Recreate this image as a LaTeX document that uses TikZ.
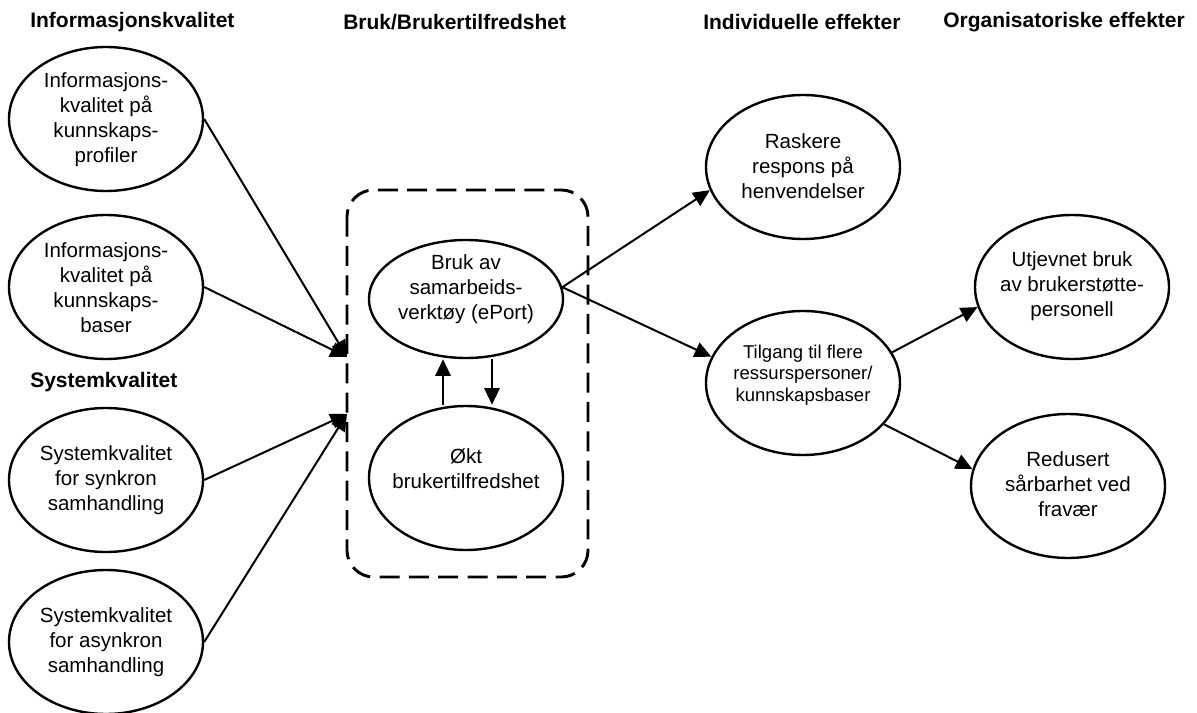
\documentclass[tikz,border=0pt]{standalone}
\usepackage{fontspec}
\setmainfont{Liberation Sans}
\usetikzlibrary{arrows.meta,shapes.geometric,calc}
\begin{document}
\begin{tikzpicture}[x=0.75pt,y=-0.75pt,
  oval/.style={draw,ellipse,line width=1.8pt,minimum width=145.5pt,minimum height=108pt,inner sep=0pt},
  lbl/.style={align=center,inner sep=0pt,font=\fontsize{15.4}{18.75}\selectfont},
  smalllbl/.style={align=center,inner sep=0pt,font=\fontsize{13.9}{16.3}\selectfont},
  head/.style={anchor=west,inner sep=0pt,font=\bfseries\fontsize{15.75}{18}\selectfont},
  link/.style={line width=1.5pt,-{Triangle[length=12.5pt,width=11.5pt]}},
  groupbox/.style={line width=2.2pt,dash pattern=on 15pt off 7pt,rounded corners=20pt}]
\useasboundingbox (0,0) rectangle (1197,713);

% column headings
\node[head] (h1) at (30,22)  {Informasjonskvalitet};
\node[head] (h2) at (343,22) {Bruk/Brukertilfredshet};
\node[head] (h3) at (703,22) {Individuelle effekter};
\node[head] (h4) at (943,22) {Organisatoriske effekter};
\node[head] (h5) at (30,382) {Systemkvalitet};

% quality factors
\node[oval] (e1) at (106,119) {};
\node[lbl]  (t1) at (106,120) {Informasjons-\\kvalitet på\\kunnskaps-\\profiler};
\node[oval] (e2) at (106,287) {};
\node[lbl]  (t2) at (106,288) {Informasjons-\\kvalitet på\\kunnskaps-\\baser};
\node[oval] (e3) at (106,480) {};
\node[lbl]  (t3) at (106,480) {Systemkvalitet\\for synkron\\samhandling};
\node[oval] (e4) at (106,642) {};
\node[lbl]  (t4) at (106,642) {Systemkvalitet\\for asynkron\\samhandling};

% use and satisfaction group
\draw[groupbox] (347,190) rectangle (588,577);
\node[oval,minimum height=88.5pt] (bruk) at (466,299) {};
\node[lbl] (tb) at (466,289) {Bruk av\\samarbeids-\\verktøy (ePort)};
\node[oval] (okt) at (466,478) {};
\node[lbl] (to) at (466,469) {Økt\\brukertilfredshet};

% individual effects
\node[oval] (rask) at (803,167) {};
\node[lbl]  (tr) at (803,166) {Raskere\\respons på\\henvendelser};
\node[oval] (tilg) at (803,383) {};
\node[smalllbl] (tt) at (803,375) {Tilgang til flere\\ressurspersoner/\\kunnskapsbaser};

% organisational effects
\node[oval] (utj) at (1072,287) {};
\node[lbl]  (tu) at (1072,286) {Utjevnet bruk\\av brukerstøtte-\\personell};
\node[oval] (red) at (1068,486) {};
\node[lbl]  (td) at (1068,484) {Redusert\\sårbarhet ved\\fravær};

% arrow targets on the group border
\coordinate (inA) at (347,357);
\coordinate (inB) at (347,414);

\draw[link] (e1.east) -- (inA);
\draw[link] (e2.east) -- (inA);
\draw[link] (e3.east) -- (inB);
\draw[link] (e4.east) -- (inB);

\draw[link] ($(okt.north)+(-23,0)$) -- ($(bruk.south)+(-23,0)$);
\draw[link] ($(bruk.south)+(26,0)$) -- ($(okt.north)+(26,0)$);

\draw[link] (bruk.7) -- (rask.194);
\draw[link] (bruk.7) -- (tilg.164);
\draw[link] (tilg.19) -- (utj.192);
\draw[link] (tilg.333) -- (red.170);
\end{tikzpicture}
\end{document}
